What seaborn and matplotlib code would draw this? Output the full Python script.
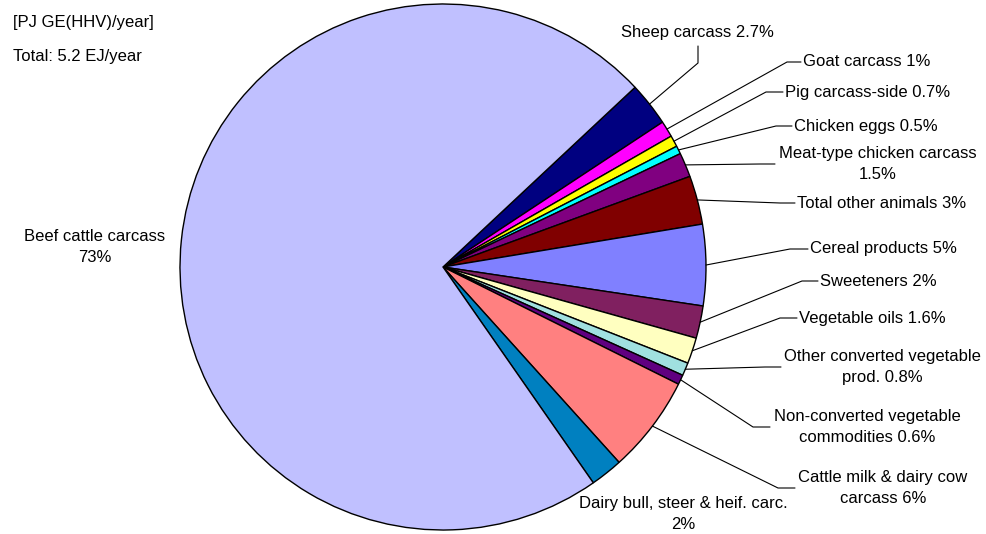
import numpy as np
import matplotlib.pyplot as plt
import seaborn as sns

# slices, clockwise from the Sheep slice
labels = ["Sheep carcass {}", "Goat carcass {}", "Pig carcass-side {}", "Chicken eggs {}",
          "Meat-type chicken carcass\n{}", "Total other animals {}", "Cereal products {}",
          "Sweeteners {}", "Vegetable oils {}", "Other converted vegetable\nprod. {}",
          "Non-converted vegetable\ncommodities {}", "Cattle milk & dairy cow\ncarcass {}",
          "Dairy bull, steer & heif. carc.\n{}", "Beef cattle carcass\n{}"]
shares = [2.7, 1, 0.7, 0.5, 1.5, 3, 5, 2, 1.6, 0.8, 0.6, 6, 2, 73]
colors = ["#000080", "#FF00FF", "#FFFF00", "#00FFFF", "#800080", "#800000", "#8080FF",
          "#802060", "#FFFFC0", "#A0E0E0", "#600080", "#FF8080", "#0080C0", "#C0C0FF"]

# label layout in pixels (y down): text x, text y, alignment, elbow x, line end x
layout = [
    (697, 33, "center", 698, None),
    (803, 62, "left", 787, 801),
    (785, 92, "left", 766, 783),
    (794, 126, "left", 776, 792),
    (878, 164, "center", 760, 775),
    (797, 203, "left", 780, 795),
    (810, 249, "left", 790, 808),
    (820, 281, "left", 802, 818),
    (799, 318, "left", 780, 797),
    (882, 367, "center", 765, 781),
    (867, 427, "center", 753, 770),
    (883, 488, "center", 778, 795),
    (683, 514, "center", None, None),
    (95, 247, "center", None, None),
]

W, H = 987, 534
cx, cy, r = 443, 267, 263

sns.set_theme(style="white")
plt.rcParams['font.family'] = ['Liberation Sans', 'DejaVu Sans']
plt.rcParams['text.color'] = 'black'

fig = plt.figure(figsize=(W / 100, H / 100), dpi=100)
ax = fig.add_axes([0, 0, 1, 1])

wedges, _ = ax.pie(shares, colors=sns.color_palette(colors), startangle=43.1,
                   counterclock=False, radius=r, center=(cx, H - cy),
                   wedgeprops=dict(edgecolor="black", linewidth=1))

for w, lab, v, (tx, ty, ha, ex, endx) in zip(wedges, labels, shares, layout):
    txt = lab.format(f"{v:g}%")
    ax.text(tx, H - ty, txt, ha=ha, va="center", fontsize=12, color="black",
            multialignment="center", linespacing=1.45)
    if ex is None:
        continue
    mid = np.deg2rad((w.theta1 + w.theta2) / 2)
    px = cx + r * np.cos(mid)
    py = (H - cy) + r * np.sin(mid)
    if endx is None:
        # vertical leader up to the text
        xs = [px, ex, ex]
        ys = [py, H - 63, H - 46]
    else:
        xs = [px, ex, endx]
        ys = [py, H - ty, H - ty]
    ax.plot(xs, ys, color="black", linewidth=0.8)

ax.text(13, H - 23, "[PJ GE(HHV)/year]", ha="left", va="center", fontsize=12, color="black")
ax.text(13, H - 57, "Total: 5.2 EJ/year", ha="left", va="center", fontsize=12, color="black")

ax.set_xlim(0, W)
ax.set_ylim(0, H)
ax.set_aspect("equal")
ax.axis("off")

fig.savefig("out.png", dpi=100)
